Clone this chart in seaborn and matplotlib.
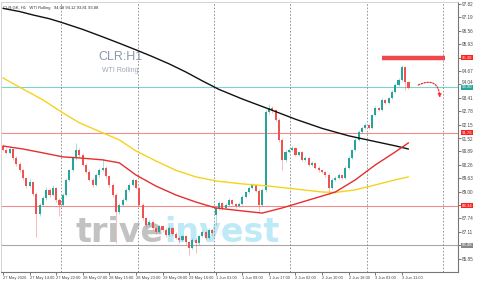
import numpy as np
import pandas as pd
import matplotlib
matplotlib.use("Agg")
import matplotlib.pyplot as plt
import matplotlib.transforms as mtransforms
from matplotlib.patches import FancyArrowPatch
import seaborn as sns

sns.set_theme(style="white")
plt.rcParams['font.family'] = ['Liberation Sans', 'DejaVu Sans']

# ---------------- data ----------------
opens = [91.15, 90.96, 90.82, 91.01, 90.58, 90.30, 90.00, 89.64, 89.26, 89.45,
         88.89, 87.95, 88.37, 88.70, 89.08, 88.84, 89.17, 88.61, 88.37, 88.84,
         89.55, 90.00, 90.58, 90.96, 90.72, 90.25, 89.92, 89.55, 89.31, 89.78,
         90.00, 90.11, 89.73, 89.31, 88.84, 88.04, 88.37, 88.61, 89.08, 89.31,
         89.55, 89.17, 88.37, 87.76, 87.43, 87.57, 87.29, 87.10, 87.38, 87.20,
         86.96, 87.29, 87.01, 86.82, 86.73, 86.91, 86.63, 86.35, 86.73, 86.58,
         86.91, 87.10, 86.82, 87.20, 87.90, 88.23, 88.47, 88.23, 88.37, 88.61,
         88.42, 88.32, 88.42, 88.75, 88.98, 89.17, 89.31, 89.03, 88.37, 89.08,
         92.74, 92.93, 92.84, 92.37, 91.43, 90.49, 90.86, 90.96, 91.05, 90.72,
         90.86, 90.49, 90.58, 90.25, 90.35, 90.11, 90.00, 89.92, 89.78, 89.17,
         89.55, 89.64, 89.78, 89.64, 90.11, 90.58, 90.96, 91.43, 91.80, 91.99,
         92.13, 91.99, 92.60, 92.93, 92.84, 93.31, 93.17, 93.40, 93.68, 94.01,
         94.25, 94.86, 94.15]
highs = [91.25, 91.05, 91.10, 91.05, 90.66, 90.38, 90.08, 89.70, 89.58, 89.52,
         88.98, 88.45, 88.80, 89.20, 89.15, 89.30, 89.22, 88.70, 88.92, 89.62,
         90.08, 90.65, 91.29, 91.05, 90.80, 90.32, 90.00, 89.62, 89.86, 90.10,
         90.55, 90.18, 89.80, 89.38, 88.92, 88.45, 88.70, 89.15, 89.40, 89.62,
         89.60, 89.22, 88.45, 87.82, 87.65, 87.62, 87.35, 87.45, 87.45, 87.28,
         87.36, 87.35, 87.08, 86.90, 86.98, 86.98, 86.70, 86.80, 86.80, 86.98,
         87.18, 87.15, 87.28, 87.25, 88.30, 88.55, 88.52, 88.45, 88.68, 88.66,
         88.48, 88.50, 88.82, 89.05, 89.25, 89.40, 89.36, 89.10, 89.15, 92.85,
         93.10, 93.00, 92.90, 92.45, 91.50, 90.95, 91.05, 91.12, 91.10, 90.92,
         90.92, 90.65, 90.64, 90.42, 90.40, 90.18, 90.06, 89.98, 89.85, 89.62,
         89.72, 89.85, 89.84, 90.18, 90.65, 91.02, 91.50, 91.88, 92.06, 92.20,
         92.18, 92.66, 93.00, 92.98, 93.38, 93.36, 93.46, 93.75, 94.08, 94.32,
         94.95, 94.92, 94.20]
lows = [90.90, 90.75, 90.78, 90.50, 90.22, 89.92, 89.55, 89.15, 89.20, 88.80,
        86.87, 87.85, 88.30, 88.62, 88.75, 88.78, 88.50, 87.85, 88.30, 88.80,
        89.48, 89.95, 90.50, 90.62, 90.18, 89.85, 89.48, 89.22, 89.25, 89.70,
        89.95, 89.65, 89.22, 88.75, 86.60, 87.95, 88.30, 88.55, 89.00, 89.25,
        89.10, 88.30, 87.68, 87.35, 87.38, 87.20, 87.02, 87.05, 87.12, 86.88,
        86.90, 86.95, 86.75, 86.60, 86.68, 86.55, 86.02, 86.28, 86.10, 86.50,
        86.85, 86.75, 86.78, 86.98, 87.45, 88.15, 88.15, 88.18, 88.30, 88.35,
        88.25, 88.28, 88.38, 88.70, 88.92, 89.10, 88.96, 88.04, 88.30, 89.00,
        92.65, 92.70, 92.30, 91.35, 90.00, 90.40, 90.80, 90.90, 90.65, 90.66,
        90.42, 90.44, 90.18, 90.20, 90.05, 89.94, 89.86, 89.70, 88.84, 89.10,
        89.50, 89.58, 89.58, 89.60, 90.05, 90.52, 90.90, 91.38, 91.74, 91.92,
        91.92, 91.94, 92.55, 92.78, 92.80, 93.10, 93.12, 93.35, 93.62, 93.95,
        94.20, 93.78, 93.80]
closes = [90.96, 90.82, 91.01, 90.58, 90.30, 90.00, 89.64, 89.26, 89.45, 88.89,
          87.95, 88.37, 88.70, 89.08, 88.84, 89.17, 88.61, 88.37, 88.84, 89.55,
          90.00, 90.58, 90.96, 90.72, 90.25, 89.92, 89.55, 89.31, 89.78, 90.00,
          90.11, 89.73, 89.31, 88.84, 88.04, 88.37, 88.61, 89.08, 89.31, 89.55,
          89.17, 88.37, 87.76, 87.43, 87.57, 87.29, 87.10, 87.38, 87.20, 86.96,
          87.29, 87.01, 86.82, 86.73, 86.91, 86.63, 86.35, 86.73, 86.58, 86.91,
          87.10, 86.82, 87.20, 87.05, 88.23, 88.47, 88.23, 88.37, 88.61, 88.42,
          88.32, 88.42, 88.75, 88.98, 89.17, 89.31, 89.03, 88.37, 89.08, 92.74,
          92.93, 92.84, 92.37, 91.43, 90.49, 90.86, 90.96, 91.05, 90.72, 90.86,
          90.49, 90.58, 90.25, 90.35, 90.11, 90.00, 89.92, 89.78, 89.17, 89.55,
          89.64, 89.78, 89.64, 90.11, 90.58, 90.96, 91.43, 91.80, 91.99, 92.13,
          91.99, 92.60, 92.93, 92.84, 93.31, 93.17, 93.40, 93.68, 94.01, 94.25,
          94.86, 94.15, 93.87]

# moving averages (sampled along the drawn curves)
ma_black_x = [0, 5, 9, 14, 18, 24, 30, 35, 40, 45, 50, 55, 60, 65, 72, 80, 88,
              96, 104, 112, 118, 122]
ma_black_y = [97.61, 97.46, 97.30, 97.12, 96.93, 96.62, 96.27, 95.97, 95.66,
              95.34, 95.00, 94.62, 94.20, 93.80, 93.35, 92.88, 92.40, 91.97,
              91.62, 91.35, 91.15, 91.00]
ma_yellow_x = [0, 6, 12, 18, 23, 30, 35, 40, 46, 52, 58, 64, 72, 80, 88, 96,
               100, 106, 112, 118, 122]
ma_yellow_y = [94.34, 93.82, 93.31, 92.70, 92.23, 91.76, 91.43, 90.91, 90.44,
               90.00, 89.69, 89.50, 89.36, 89.26, 89.12, 88.98, 88.96, 89.08,
               89.31, 89.55, 89.69]
ma_red_x = [0, 6, 12, 18, 23, 30, 35, 40, 46, 52, 58, 64, 72, 78, 84, 90, 96,
            100, 106, 112, 118, 122]
ma_red_y = [91.14, 91.00, 90.82, 90.63, 90.58, 90.49, 90.35, 89.78, 89.26,
            88.84, 88.51, 88.23, 88.09, 87.99, 88.23, 88.51, 88.79, 88.98,
            89.55, 90.25, 90.86, 91.29]

y_ticks = [85.85, 86.48, 87.11, 87.74, 88.37, 89.00, 89.63, 90.26, 90.89,
           91.52, 92.15, 92.78, 93.41, 94.04, 94.67, 95.30, 95.93, 96.56,
           97.19, 97.82]
x_tick_pos = [0, 8, 16, 24, 32, 40, 48, 56, 64, 72, 80, 88, 96, 104, 112, 120]
x_tick_labels = ["27 May 2026", "27 May 14:00", "27 May 22:00", "28 May 07:00",
                 "28 May 15:00", "28 May 23:00", "29 May 08:00", "29 May 16:00",
                 "1 Jun 01:00", "1 Jun 09:00", "1 Jun 17:00", "2 Jun 02:00",
                 "2 Jun 10:00", "2 Jun 18:00", "3 Jun 03:00", "3 Jun 11:00"]
grid_x = [17.5, 40.5, 63.5, 86.5, 109.5, 132.5]

level_resist = 95.30
level_current = 93.90
level_red_upper = 91.76
level_red_lower = 88.34
level_grey = 86.48

GREEN = "#26a69a"
RED = "#ef5350"

# ---------------- figure ----------------
fig = plt.figure(figsize=(5, 2.81), dpi=100)
ax = fig.add_axes([0.002, 0.032, 0.914, 0.961])

df = pd.DataFrame({"i": np.arange(len(closes)), "open": opens, "high": highs,
                   "low": lows, "close": closes})
up = df["close"] >= df["open"]
cols = np.where(up, GREEN, RED)

# horizontal level lines
ax.axhline(level_current, color="#7fd3c9", lw=0.8, zorder=1)
ax.axhline(level_red_upper, color="#f28b8b", lw=0.8, zorder=1)
ax.axhline(level_red_lower, color="#f28b8b", lw=0.8, zorder=1)
ax.axhline(level_grey, color="#a8a8a8", lw=0.8, zorder=1)

for gx in grid_x:
    ax.axvline(gx, color="#888888", lw=0.6, ls=(0, (2, 2)), zorder=1)

# watermark texts
ax.text(0.262, 0.795, "CLR:H1", transform=ax.transAxes, fontsize=9,
        color="#8a9ab0", ha="center", va="center", zorder=0)
ax.text(0.262, 0.745, "WTI Rolling", transform=ax.transAxes, fontsize=5,
        color="#9aa8ba", ha="center", va="center", zorder=0)
ax.text(0.162, 0.145, "trive", transform=ax.transAxes, fontsize=24,
        color="#a8a8a8", alpha=0.7, ha="left", va="center",
        fontweight="bold", zorder=0, family="DejaVu Sans")
ax.text(0.358, 0.145, "invest", transform=ax.transAxes, fontsize=24,
        color="#a9e2f5", alpha=0.75, ha="left", va="center",
        fontweight="bold", zorder=0, family="DejaVu Sans")
ax.text(0.004, 0.985, "CLR:GK, H1   WTI Rolling   94.08 94.12 93.81 93.88",
        transform=ax.transAxes, fontsize=3.0, color="#333333",
        ha="left", va="top")

# candles
ax.vlines(df["i"], df["low"], df["high"], colors=cols, lw=0.6, alpha=0.45,
          zorder=3)
body_h = np.maximum((df["close"] - df["open"]).abs(), 0.03)
body_b = np.minimum(df["open"], df["close"])
ax.bar(df["i"], body_h, bottom=body_b, width=0.62, color=cols, lw=0, zorder=4)

# moving averages via seaborn
sns.lineplot(x=ma_black_x, y=ma_black_y, ax=ax, color="#111111", lw=1.0,
             zorder=5)
sns.lineplot(x=ma_yellow_x, y=ma_yellow_y, ax=ax, color="#f7d21c", lw=1.0,
             zorder=5)
sns.lineplot(x=ma_red_x, y=ma_red_y, ax=ax, color="#e62e2e", lw=1.0, zorder=5)

# resistance bar and projected path arrow
ax.hlines(level_resist, 114, 133, color="#f04848", lw=3.2, zorder=6)
arr = FancyArrowPatch((124.2, 93.95), (131.5, 93.28),
                      connectionstyle="arc3,rad=-0.8", arrowstyle="-|>",
                      mutation_scale=5, color="#f03030", lw=0.9,
                      linestyle=(0, (1.2, 1.2)), zorder=6)
ax.add_patch(arr)

# axes styling
ax.set_xlim(-0.6, 136.9)
ax.set_ylim(85.22, 97.91)
ax.yaxis.tick_right()
ax.set_yticks(y_ticks)
covered = {95.30, 88.37, 86.48}
ax.set_yticklabels(["" if v in covered else f"{v:.2f}" for v in y_ticks])
ax.set_xticks(x_tick_pos)
ax.set_xticklabels(x_tick_labels, ha="left")
ax.tick_params(axis="y", labelsize=3.3, length=2, width=0.5, pad=1,
               colors="#444444", right=True)
ax.tick_params(axis="x", labelsize=2.9, length=2, width=0.5, pad=1,
               colors="#444444", bottom=True)
# nudge labels that sit right against the axis price boxes
for lab, v in zip(ax.get_yticklabels(), y_ticks):
    if v == 94.04:
        lab.set_transform(lab.get_transform() +
                          mtransforms.ScaledTranslation(0, 1.6 / 72,
                                                        fig.dpi_scale_trans))
    if v == 91.52:
        lab.set_transform(lab.get_transform() +
                          mtransforms.ScaledTranslation(0, -1.0 / 72,
                                                        fig.dpi_scale_trans))
for s in ["top", "left"]:
    ax.spines[s].set_color("#cccccc")
    ax.spines[s].set_linewidth(0.6)
for s in ["right", "bottom"]:
    ax.spines[s].set_color("#777777")
    ax.spines[s].set_linewidth(0.8)
ax.set_xlabel("")
ax.set_ylabel("")

# price labels on the axis
tr = mtransforms.blended_transform_factory(ax.transAxes, ax.transData)
for val, bg in [(level_resist, "#ff2020"), (level_current, "#26a69a"),
                (level_red_upper, "#ff2020"), (level_red_lower, "#ff2020"),
                (level_grey, "#888888")]:
    ax.text(1.008, val, f"{val:.2f}", transform=tr, fontsize=3.1,
            color="white", ha="left", va="center", zorder=10, clip_on=False,
            bbox=dict(boxstyle="square,pad=0.15", fc=bg, ec="none"))

fig.savefig("out.png", dpi=100, facecolor="white")
